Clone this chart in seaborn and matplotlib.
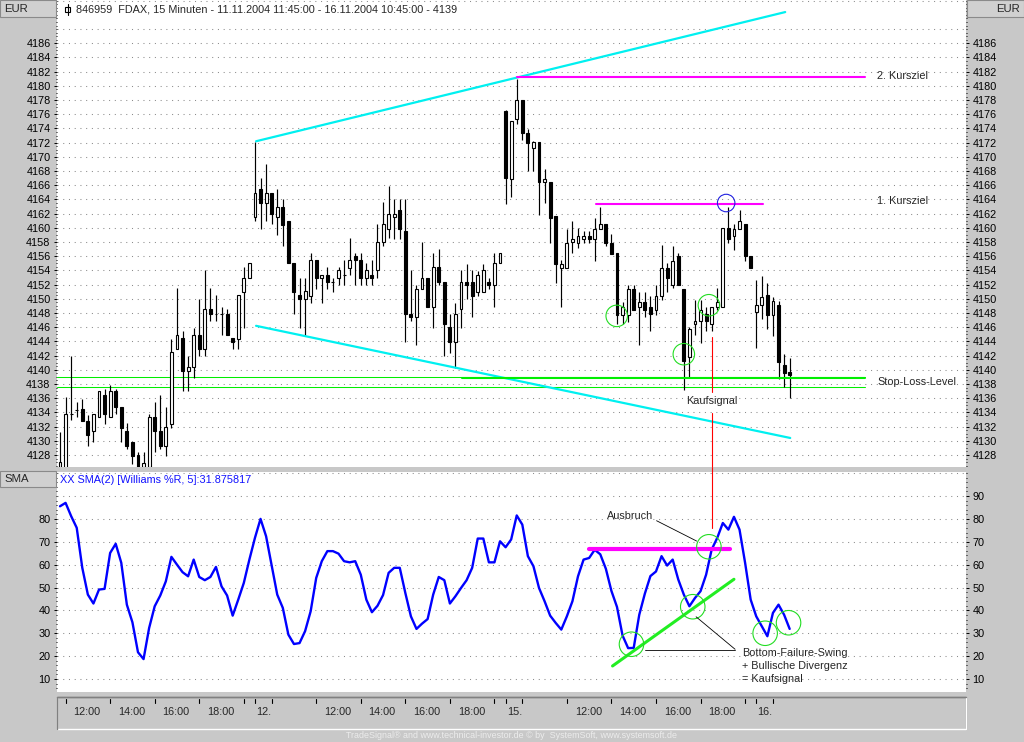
import numpy as np
import pandas as pd
import seaborn as sns
import matplotlib
matplotlib.use("Agg")
import matplotlib.pyplot as plt
from matplotlib.patches import Rectangle, Ellipse
from matplotlib.lines import Line2D
from matplotlib.ticker import MultipleLocator

# FDAX, 15 Minuten - 11.11.2004 11:45 bis 16.11.2004 10:45
sessions = [("2004-11-11 11:45", 35), ("2004-11-12 09:15", 45),
            ("2004-11-15 09:15", 45), ("2004-11-16 09:15", 7)]

opens = [4126.3, 4126.0, 4133.8, 4134.4, 4134.5, 4132.8, 4131.4, 4133.4, 4136.4, 4133.4,
         4137.0, 4134.8, 4131.4, 4129.9, 4128.0, 4126.3, 4126.3, 4133.4, 4131.4, 4129.3,
         4132.4, 4142.9, 4144.5, 4139.8, 4140.4, 4144.9, 4142.9, 4148.5, 4147.9, 4147.9,
         4147.9, 4144.5, 4144.4, 4151.0, 4153.0, 4161.5, 4165.5, 4163.5, 4164.9, 4161.5,
         4162.9, 4161.0, 4155.0, 4150.5, 4150.0, 4150.4, 4155.5, 4152.9, 4153.4, 4152.4,
         4152.9, 4153.4, 4154.4, 4156.0, 4155.5, 4152.9, 4153.4, 4154.0, 4158.0, 4159.9,
         4161.5, 4162.5, 4159.6, 4147.8, 4147.4, 4151.4, 4153.0, 4148.8, 4154.5, 4152.4,
         4146.0, 4143.9, 4148.5, 4152.4, 4152.4, 4151.0, 4151.0, 4152.4, 4151.9, 4155.0,
         4176.4, 4166.9, 4175.4, 4178.0, 4173.3, 4171.3, 4172.1, 4166.4, 4166.4, 4161.6,
         4154.3, 4154.3, 4158.0, 4157.9, 4158.4, 4158.9, 4158.4, 4159.9, 4160.5, 4157.9,
         4156.5, 4147.7, 4147.7, 4151.4, 4148.9, 4149.5, 4148.9, 4148.4, 4150.4, 4154.4,
         4152.0, 4156.0, 4151.4, 4141.8, 4146.4, 4146.9, 4147.8, 4146.4, 4148.9, 4148.9,
         4160.0, 4158.9, 4159.9, 4160.6, 4156.0, 4148.1, 4149.1, 4150.6, 4147.7, 4149.1,
         4140.7, 4139.7]
highs = [4131.2, 4136.2, 4142.0, 4135.5, 4135.9, 4133.6, 4133.8, 4137.0, 4137.3, 4137.9,
         4137.3, 4134.8, 4132.5, 4129.9, 4128.4, 4128.4, 4133.8, 4135.5, 4136.4, 4134.8,
         4144.4, 4151.5, 4145.5, 4142.0, 4145.9, 4150.0, 4154.0, 4151.5, 4150.5, 4148.9,
         4148.5, 4144.5, 4150.5, 4154.5, 4155.0, 4172.1, 4167.0, 4169.0, 4164.9, 4165.5,
         4164.0, 4161.0, 4155.0, 4153.0, 4153.0, 4156.4, 4155.5, 4153.4, 4154.5, 4152.9,
         4154.5, 4155.5, 4158.6, 4156.4, 4156.4, 4155.1, 4155.5, 4160.5, 4163.6, 4165.9,
         4164.0, 4164.0, 4164.0, 4154.0, 4151.9, 4158.0, 4153.0, 4156.5, 4157.0, 4152.4,
         4147.9, 4149.4, 4154.0, 4154.9, 4154.0, 4153.9, 4154.9, 4152.9, 4156.4, 4156.4,
         4176.6, 4175.0, 4181.0, 4178.0, 4173.9, 4172.3, 4172.1, 4168.3, 4166.4, 4161.6,
         4155.5, 4159.9, 4160.9, 4160.0, 4159.5, 4159.5, 4161.4, 4162.9, 4160.5, 4159.1,
         4156.5, 4149.6, 4152.0, 4152.0, 4151.0, 4151.0, 4150.4, 4152.0, 4157.6, 4155.0,
         4157.5, 4156.5, 4151.4, 4146.1, 4149.8, 4149.8, 4148.9, 4148.9, 4151.5, 4160.0,
         4162.9, 4160.6, 4162.5, 4160.6, 4156.0, 4152.7, 4153.2, 4152.2, 4150.3, 4149.7,
         4142.2, 4141.7]
lows = [4125.8, 4125.5, 4132.9, 4133.3, 4132.8, 4129.3, 4129.8, 4133.4, 4132.4, 4133.4,
        4133.8, 4129.9, 4128.8, 4126.7, 4126.0, 4126.3, 4126.3, 4128.4, 4128.8, 4127.9,
        4131.8, 4142.9, 4137.0, 4137.0, 4138.9, 4142.0, 4142.0, 4146.9, 4146.9, 4144.9,
        4144.9, 4142.9, 4142.9, 4145.9, 4153.0, 4161.0, 4159.9, 4161.0, 4160.5, 4159.0,
        4157.5, 4155.0, 4147.9, 4145.9, 4144.7, 4149.4, 4151.4, 4149.4, 4151.4, 4151.0,
        4151.9, 4151.9, 4153.4, 4151.9, 4151.9, 4151.9, 4151.9, 4152.9, 4157.4, 4158.6,
        4158.5, 4158.5, 4143.9, 4146.9, 4143.5, 4151.4, 4148.8, 4145.9, 4151.9, 4141.9,
        4142.4, 4140.2, 4145.9, 4150.0, 4147.4, 4150.4, 4151.0, 4151.4, 4148.8, 4155.0,
        4163.4, 4164.3, 4174.7, 4172.4, 4168.0, 4168.0, 4161.8, 4163.5, 4157.9, 4152.3,
        4148.9, 4154.3, 4156.5, 4157.2, 4157.9, 4157.9, 4155.4, 4159.9, 4157.4, 4156.3,
        4146.5, 4146.5, 4146.8, 4148.4, 4143.5, 4147.5, 4145.4, 4147.7, 4149.9, 4151.0,
        4151.5, 4152.0, 4137.1, 4139.0, 4144.9, 4143.8, 4145.4, 4145.4, 4148.4, 4148.9,
        4157.9, 4156.9, 4159.9, 4155.4, 4154.3, 4143.1, 4147.1, 4145.7, 4144.7, 4138.7,
        4137.6, 4136.1]
closes = [4127.0, 4133.8, 4133.8, 4134.4, 4132.8, 4130.8, 4133.8, 4137.0, 4133.8, 4137.0,
          4134.8, 4131.8, 4129.3, 4127.9, 4126.3, 4126.9, 4133.4, 4131.4, 4129.3, 4131.9,
          4142.5, 4144.9, 4139.8, 4140.4, 4144.9, 4142.9, 4148.5, 4147.9, 4147.9, 4147.9,
          4144.9, 4143.9, 4150.5, 4153.0, 4155.0, 4164.9, 4163.5, 4164.9, 4161.9, 4162.9,
          4160.4, 4155.0, 4151.0, 4150.0, 4151.1, 4155.5, 4152.9, 4153.4, 4152.4, 4152.4,
          4154.0, 4153.4, 4155.5, 4155.5, 4152.9, 4154.0, 4152.9, 4158.0, 4160.5, 4161.9,
          4161.9, 4159.9, 4147.8, 4147.4, 4151.4, 4153.0, 4148.8, 4154.5, 4152.4, 4146.4,
          4143.9, 4147.9, 4152.4, 4151.9, 4150.4, 4153.4, 4154.0, 4151.9, 4155.0, 4156.4,
          4167.0, 4175.0, 4178.0, 4173.3, 4171.9, 4172.1, 4166.4, 4166.9, 4161.4, 4154.9,
          4154.9, 4157.9, 4158.4, 4158.9, 4158.9, 4158.4, 4159.9, 4160.5, 4157.9, 4156.3,
          4147.7, 4148.9, 4151.4, 4148.4, 4149.5, 4148.4, 4147.8, 4150.4, 4154.4, 4152.9,
          4155.4, 4152.0, 4141.3, 4145.8, 4146.9, 4148.4, 4146.9, 4148.9, 4149.5, 4160.0,
          4158.4, 4159.9, 4160.9, 4156.0, 4154.3, 4149.1, 4150.3, 4147.7, 4149.7, 4141.1,
          4139.6, 4139.3]
# XX SMA(2) of Williams %R(5)
sma = [85.5, 87.0, 81.2, 76.1, 58.6, 46.9, 43.0, 49.1, 49.4, 65.1,
       69.1, 60.8, 42.5, 34.8, 21.7, 18.7, 32.3, 41.8, 46.5, 52.7,
       63.4, 60.0, 56.7, 54.9, 62.2, 54.6, 53.2, 54.6, 59.0, 50.5,
       46.5, 37.7, 44.7, 52.0, 62.2, 71.7, 80.0, 72.4, 59.6, 46.9,
       41.1, 29.4, 25.3, 25.7, 30.9, 39.6, 54.2, 61.5, 65.9, 65.9,
       64.8, 61.5, 61.0, 61.5, 55.6, 44.7, 39.2, 42.0, 46.7, 56.4,
       58.6, 58.6, 47.6, 37.4, 31.9, 34.2, 36.2, 46.9, 54.6, 53.2,
       43.0, 46.2, 49.8, 53.2, 58.6, 71.4, 71.4, 61.0, 61.0, 70.2,
       67.6, 71.0, 81.5, 77.5, 63.7, 59.3, 49.8, 44.0, 37.7, 34.5,
       31.6, 37.4, 44.0, 54.9, 62.2, 62.9, 66.5, 64.5, 58.2, 48.5,
       41.5, 29.0, 23.5, 23.6, 38.1, 47.3, 55.0, 57.0, 63.7, 59.6,
       62.2, 53.5, 46.9, 41.8, 45.4, 48.4, 55.6, 66.6, 71.7, 78.2,
       75.3, 80.9, 75.3, 60.8, 44.7, 37.4, 33.0, 28.7, 38.9, 42.5,
       38.1, 31.9]

# hand drawn analysis (bar index, value)
channel_top = [(35.2, 4172.2), (130.2, 4190.4)]
channel_bottom = [(35.2, 4146.2), (131.1, 4130.4)]
kursziel_2 = (82.05, 144.6, 4181.2)
kursziel_1 = (96.2, 126.2, 4163.4)
stop_loss = (72.2, 144.6, 4138.9)
stop_thin = [4139.0, 4137.55]
price_circles = [(99.95, 4147.6), (112.0, 4142.2), (116.5, 4149.1)]
top_circle = (119.6, 4163.5)
signal_bar = 117.1
osc_resistance = (95.0, 120.3, 66.8)
osc_trend = [(99.2, 15.7), (121.0, 53.6)]
osc_circles = [(102.6, 25.2), (113.6, 41.6), (116.5, 67.8), (126.6, 30.0), (130.8, 34.6)]

W, H = 1024, 742
BG = "#c8c8c8"
GRID = "#8c8c8c"

sns.set_theme(style="white", rc={"xtick.color": "black", "ytick.color": "black",
                                 "axes.edgecolor": BG})
plt.rcParams["font.family"] = ["Liberation Sans", "DejaVu Sans"]
FS = 7.8

times = pd.DatetimeIndex(np.concatenate(
    [pd.date_range(s, periods=n, freq="15min").values for s, n in sessions]))
df = pd.DataFrame({"bar": np.arange(len(times)), "time": times, "open": opens,
                   "high": highs, "low": lows, "close": closes, "sma": sma})

fig = plt.figure(figsize=(W / 100, H / 100), dpi=100, facecolor=BG)


def rect(x0, y0, x1, y1):
    return [x0 / W, 1 - y1 / H, (x1 - x0) / W, (y1 - y0) / H]


def ftext(x, y, s, **kw):
    fig.text(x / W, 1 - y / H, s, **kw)


XLIM = (-0.54, 162.66)

# ---------- price panel ----------
ax = fig.add_axes(rect(57, 0, 966, 467))
ax.set_facecolor("white")
ax.set_xlim(*XLIM)
ax.set_ylim(4126.31, 4192.10)
for s in ax.spines.values():
    s.set_visible(False)
ax.set_xticks([])
for v in np.arange(4128, 4193, 2):
    if v != 4190:
        ax.axhline(v, color=GRID, lw=0.75, ls=(0, (1, 4.5)), zorder=0)

up = df["close"] >= df["open"]
ax.vlines(df["bar"], df["low"], df["high"], color="black", lw=0.85, zorder=3)
body_lo = np.minimum(df["open"], df["close"])
body_h = (df["close"] - df["open"]).abs()
ax.bar(df["bar"][up], body_h[up], bottom=body_lo[up], width=0.52, color="white",
       edgecolor="black", linewidth=0.8, zorder=4)
ax.bar(df["bar"][~up], body_h[~up], bottom=body_lo[~up], width=0.52, color="black",
       edgecolor="black", linewidth=0.8, zorder=4)

for line in (channel_top, channel_bottom):
    xs, ys = zip(*line)
    ax.plot(xs, ys, color="#00f0f0", lw=1.6, zorder=5, clip_on=False)
for x0, x1, y in (kursziel_2, kursziel_1):
    ax.plot([x0, x1], [y, y], color="#ff00ff", lw=1.5, zorder=5)
for y in stop_thin:
    ax.plot([XLIM[0], stop_loss[1]], [y, y], color="#00ee00", lw=0.75, zorder=2)
ax.plot(stop_loss[:2], [stop_loss[2]] * 2, color="#00ee00", lw=1.5, zorder=5)

ppx = 909 / (XLIM[1] - XLIM[0])
ppy = 467 / (4192.10 - 4126.31)
for cx, cy in price_circles:
    ax.add_patch(Ellipse((cx, cy), 21.5 / ppx, 21.5 / ppy, fill=False,
                         edgecolor="#22dd22", lw=0.8, zorder=6))
ax.add_patch(Ellipse(top_circle, 17.5 / ppx, 17.5 / ppy, fill=False,
                     edgecolor="#2020e0", lw=0.8, zorder=6))

ax.plot([signal_bar] * 2, [4144.6, 4136.9], color="red", lw=0.8, zorder=6)
ax.plot([signal_bar] * 2, [4133.9, 4126.31], color="red", lw=0.8, zorder=6)
ax.text(signal_bar, 4135.6, "Kaufsignal", ha="center", va="center", fontsize=FS)
ax.text(146.7, kursziel_2[2] + 0.2, "2. Kursziel", ha="left", va="center", fontsize=FS)
ax.text(146.7, kursziel_1[2] + 0.4, "1. Kursziel", ha="left", va="center", fontsize=FS)
ax.text(146.7, stop_loss[2] - 0.6, "Stop-Loss-Level", ha="left", va="center", fontsize=FS)

ax.set_yticks(np.arange(4128, 4187, 2))
ax.yaxis.set_minor_locator(MultipleLocator(0.5))
ax.tick_params(axis="y", which="major", direction="out", length=2.4, width=0.7,
               pad=2.2, labelsize=FS, left=True, right=True,
               labelleft=True, labelright=True)
ax.tick_params(axis="y", which="minor", direction="out", length=0.8, width=0.7,
               left=True, right=True)

# ---------- oscillator panel ----------
ax2 = fig.add_axes(rect(57, 472, 966, 692))
ax2.set_facecolor("white")
ax2.set_xlim(*XLIM)
ax2.set_ylim(4.32, 100.49)
for s in ax2.spines.values():
    s.set_visible(False)
ax2.set_xticks([])
for v in range(10, 101, 10):
    ax2.axhline(v, color=GRID, lw=0.75, ls=(0, (1, 4.5)), zorder=0)

sns.lineplot(data=df, x="bar", y="sma", ax=ax2, color="#0000ff", lw=1.7,
             legend=False, zorder=4)
ax2.set_xlabel("")
ax2.set_ylabel("")

ax2.plot(osc_resistance[:2], [osc_resistance[2]] * 2, color="#ff00ff", lw=3, zorder=5)
xs, ys = zip(*osc_trend)
ax2.plot(xs, ys, color="#22ee22", lw=2.2, zorder=5)
ppy2 = 220 / (100.49 - 4.32)
for cx, cy in osc_circles:
    ax2.add_patch(Ellipse((cx, cy), 24.5 / ppx, 24.5 / ppy2, fill=False,
                          edgecolor="#22dd22", lw=0.8, zorder=6))
ax2.plot([signal_bar] * 2, [76.0, 100.49], color="red", lw=0.8, zorder=6)
ax2.plot([107.1, 114.3], [79.2, 70.3], color="black", lw=0.6, zorder=6)
ax2.plot([105.0, 121.2], [22.8, 22.8], color="black", lw=0.6, zorder=6)
ax2.plot([114.2, 121.2], [37.2, 23.0], color="black", lw=0.6, zorder=6)
ax2.text(98.2, 81.3, "Ausbruch", ha="left", va="center", fontsize=FS)
for yv, s in zip([21.5, 15.6, 10.1],
                 ["Bottom-Failure-Swing", "+ Bullische Divergenz", "= Kaufsignal"]):
    ax2.text(122.4, yv, s, ha="left", va="center", fontsize=FS)
ax2.text(3 / 909, 1 - 8 / 220, "XX SMA(2) [Williams %R, 5]:31.875817",
         transform=ax2.transAxes, ha="left", va="center", fontsize=FS, color="#1010ff")

ax2.set_yticks(range(10, 81, 10))
ax2.yaxis.set_minor_locator(MultipleLocator(2))
ax2.tick_params(axis="y", which="major", direction="out", length=2.4, width=0.7,
                pad=2.2, labelsize=FS, left=True, right=False,
                labelleft=True, labelright=False)
ax2.tick_params(axis="y", which="minor", direction="out", length=0.8, width=0.7,
                left=True, right=False)
ax2r = ax2.twinx()
ax2r.set_ylim(ax2.get_ylim())
for s in ax2r.spines.values():
    s.set_visible(False)
ax2r.set_yticks(range(10, 91, 10))
ax2r.yaxis.set_minor_locator(MultipleLocator(2))
ax2r.tick_params(axis="y", which="major", direction="out", length=2.4, width=0.7,
                 pad=2.2, labelsize=FS)
ax2r.tick_params(axis="y", which="minor", direction="out", length=0.8, width=0.7)
ax2r.grid(False)

fig.add_artist(Line2D([(60 + ppx * signal_bar) / W] * 2, [1 - 467 / H, 1 - 472 / H],
                      color="red", lw=0.8))

# ---------- time axis strip ----------
axx = fig.add_axes(rect(57, 697, 966, 729))
axx.set_facecolor(BG)
axx.set_xlim(*XLIM)
axx.set_ylim(0, 1)
axx.set_xticks([])
axx.set_yticks([])
for s in axx.spines.values():
    s.set_visible(False)
axx.plot([0, 1, 1], [1, 1, 0], transform=axx.transAxes, color="#808080", lw=1, clip_on=False)
axx.plot([0, 0, 1, 1], [1, 0, 0, 1], transform=axx.transAxes, color="white", lw=1, clip_on=False)
axx.plot([0, 1], [1, 1], transform=axx.transAxes, color="#808080", lw=1, clip_on=False)
axx.plot([0, 0], [1, 0], transform=axx.transAxes, color="#808080", lw=1, clip_on=False)

first_bar = df.groupby(df["time"].dt.date)["bar"].transform("min")
for b, t in zip(df["bar"], df["time"]):
    is_day = (b == first_bar[b]) and b > 0
    is_hour = t.minute == 0 and t.hour % 2 == 0 and 10 <= t.hour <= 20
    if is_day or is_hour:
        axx.plot([b, b], [0.94, 0.80], color="black", lw=0.8)
    if is_day:
        axx.text(b + 0.2, 0.52, f"{t.day}.", ha="left", va="center", fontsize=FS)
    elif is_hour and t.hour in (12, 14, 16, 18):
        axx.text(b + 1.4, 0.52, t.strftime("%H:%M"), ha="left", va="center", fontsize=FS)

# ---------- frame labels ----------
for x0, y0, x1, y1, s, xt, ha in [(0, 0, 56, 17, "EUR", 4, "left"),
                                  (967, 0, 1024, 17, "EUR", 1020, "right"),
                                  (0, 471, 56, 487, "SMA", 4, "left")]:
    fig.add_artist(Rectangle((x0 / W, 1 - y1 / H), (x1 - x0) / W, (y1 - y0) / H,
                             transform=fig.transFigure, facecolor="#d0d0d0",
                             edgecolor="#8a8a8a", lw=0.8))
    ftext(xt, (y0 + y1) / 2, s, fontsize=8.2, ha=ha, va="center")

# title with small candle icon
fig.add_artist(Line2D([67.5 / W] * 2, [1 - 4 / H, 1 - 15 / H], color="black", lw=0.8))
fig.add_artist(Rectangle((65.3 / W, 1 - 12.3 / H), 4.5 / W, 5 / H, transform=fig.transFigure,
                         facecolor="white", edgecolor="black", lw=0.8))
ftext(76, 9, "846959  FDAX, 15 Minuten - 11.11.2004 11:45:00 - 16.11.2004 10:45:00 - 4139",
      fontsize=FS, ha="left", va="center")

ftext(512, 736, "TradeSignal® and www.technical-investor.de © by  SystemSoft, www.systemsoft.de",
      fontsize=6.4, ha="center", va="center", color="#ececec")

fig.savefig("out.png", dpi=100, facecolor=BG)
